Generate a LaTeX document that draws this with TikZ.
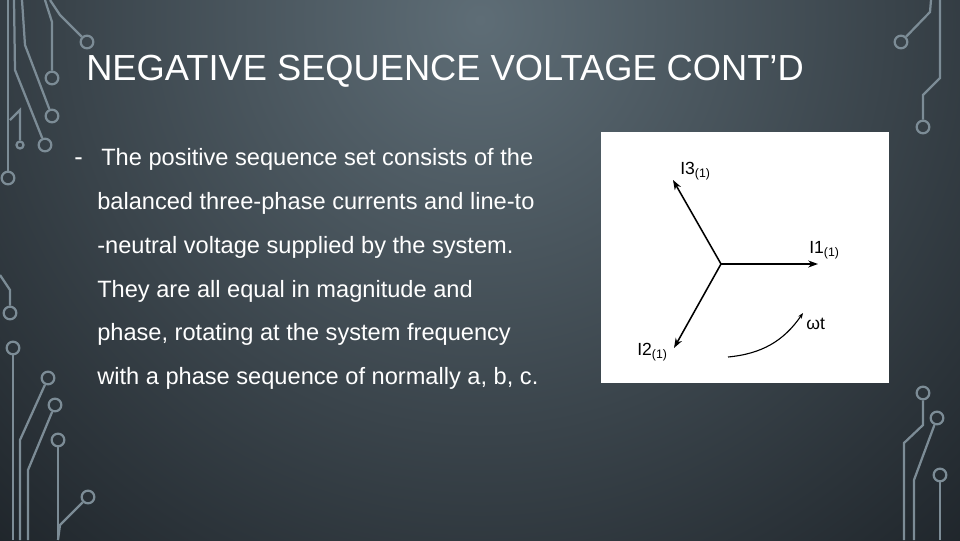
\documentclass[tikz,border=0pt]{standalone}
\usepackage{fontspec}
\setmainfont{Liberation Sans}
\begin{document}
\begin{tikzpicture}[x=0.25mm,y=-0.25mm,
  deco/.style={draw=decoc,line width=1.6pt},
  ring/.style={draw=decoc,line width=1.6pt,circle,minimum size=9pt,inner sep=0pt},
  body/.style={anchor=base west,inner sep=0pt,font=\fontsize{16.8}{18}\selectfont,text=white},
  ph/.style={line width=1.1pt,-{Stealth[length=7pt,width=5pt]}},
  lab/.style={inner sep=0pt,font=\fontsize{12.5}{13}\selectfont}]
\usetikzlibrary{arrows.meta}
\definecolor{decoc}{HTML}{7C8C96}
\definecolor{bgtop}{HTML}{5E6D76}
\definecolor{bgbot}{HTML}{161B20}
\useasboundingbox (0,0) rectangle (960,540);
\shade[inner color=bgtop,outer color=bgbot] (480,20) circle (820);
% left decorations
\node[ring] (l1) at (87,42) {};
\draw[deco] (l1) -- (60,15) -- (50,0);
\node[ring] (l2) at (52,78) {};
\draw[deco] (l2) -- (52,22) -- (45,0);
\node[ring] (l3) at (52,116) {};
\draw[deco] (l3) -- (25,45) -- (22,0);
\node[ring] (l4) at (45,145) {};
\draw[deco] (l4) -- (15,70) -- (14,0);
\node[ring,minimum size=5pt] (l5) at (20,145) {};
\draw[deco] (l5) -- (20,110) -- (10,120);
\node[ring] (l6) at (8,178) {};
\draw[deco] (l6) -- (8,0);
\node[ring] (l7) at (10,313) {};
\draw[deco] (l7) -- (10,290) -- (0,275);
\node[ring] (l8) at (13,348) {};
\draw[deco] (l8) -- (13,540);
\node[ring] (l9) at (48,378) {};
\draw[deco] (l9) -- (20,440) -- (20,540);
\node[ring] (l10) at (55,405) {};
\draw[deco] (l10) -- (28,470) -- (28,540);
\node[ring] (l11) at (58,440) {};
\draw[deco] (l11) -- (58,540);
\node[ring] (l12) at (88,497) {};
\draw[deco] (l12) -- (60,525) -- (58,540);
% right decorations
\node[ring] (r1) at (901,42) {};
\draw[deco] (r1) -- (930,12) -- (931,0);
\node[ring] (r2) at (923,127) {};
\draw[deco] (r2) -- (923,95) -- (940,78) -- (940,0);
\node[ring] (r3) at (923,393) {};
\draw[deco] (r3) -- (923,425) -- (904,443) -- (904,540);
\node[ring] (r4) at (937,418) {};
\draw[deco] (r4) -- (914,480) -- (914,540);
\node[ring] (r5) at (940,475) {};
\draw[deco] (r5) -- (940,540);
% title
\node[anchor=base west,inner sep=0pt,font=\fontsize{25.8}{28}\selectfont,text=white] (title) at (86,80) {NEGATIVE SEQUENCE VOLTAGE CONT’D};
% bullet text
\node[anchor=base west,inner sep=0pt,font=\fontsize{18}{18}\selectfont,text=white] (dash) at (74,165) {-};
\node[body] (t1) at (101,165) {The positive sequence set consists of the};
\node[body] (t2) at (97,209) {balanced three-phase currents and line-to};
\node[body] (t3) at (97,253) {-neutral voltage supplied by the system.};
\node[body] (t4) at (97,297) {They are all equal in magnitude and};
\node[body] (t5) at (97,340) {phase, rotating at the system frequency};
\node[body] (t6) at (97,384) {with a phase sequence of normally a, b, c.};
% phasor panel
\fill[white] (601,132) rectangle (889,383);
\coordinate (o) at (721,264);
\coordinate (p1) at (818,264);
\coordinate (p3) at (673,180);
\coordinate (p2) at (674,348);
\draw[ph] (o) -- (p1);
\draw[ph] (o) -- (p3);
\draw[ph] (o) -- (p2);
\coordinate (a1) at (728,357);
\coordinate (a2) at (803,313);
\draw[line width=0.8pt,-{Stealth[length=4pt,width=3pt]}] (a1) to[bend right=25] (a2);
\node[lab,anchor=base west] (n3) at (680,174) {I3\textsubscript{(1)}};
\node[lab,anchor=base west] (n1) at (809,253) {I1\textsubscript{(1)}};
\node[lab,anchor=base west] (n2) at (637,355) {I2\textsubscript{(1)}};
\node[lab,anchor=base west] (nw) at (806,329) {ωt};
\end{tikzpicture}
\end{document}
